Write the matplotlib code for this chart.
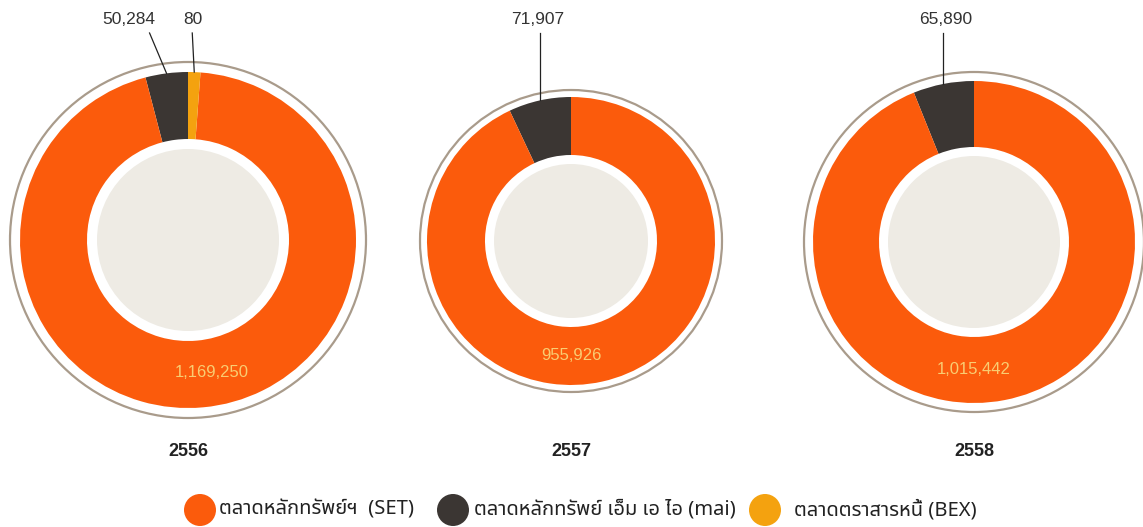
import numpy as np
import matplotlib
matplotlib.use("Agg")
import matplotlib.pyplot as plt
from matplotlib.patches import Circle

# data (ล้านบาท)
years = ["2556", "2557", "2558"]
markets = ["ตลาดหลักทรัพย์ฯ  (SET)", "ตลาดหลักทรัพย์ เอ็ม เอ ไอ (mai)", "ตลาดตราสารหนี้ (BEX)"]
set_values = [1169250, 955926, 1015442]
mai_values = [50284, 71907, 65890]
bex_values = [80, 0, 0]

# style
colors = ["#FB5B0C", "#3B3633", "#F4A20F"]
ring_color = "#A99B8B"
hole_color = "#EEEBE4"
value_color = "#F9CD72"
text_color = "#333333"
centers = [(188, 287), (571, 286), (974, 285)]
r_ring = [178, 151, 170]
r_outer = [168, 144, 161]
r_inner = [101, 86, 95]
r_hole = [91, 77, 86]
label_dx = [[-38, -1], [-2], [2]]
line_dx = [[-17, -2], [0], [0]]
value_angle = [-80, -90, -90]
min_share = 0.012

W, H = 1143, 527
THAI = ["Noto Sans Thai", "Liberation Sans", "DejaVu Sans"]
NUM = ["Liberation Sans", "DejaVu Sans"]


def draw_donut(ax, k):
    cx, cy = centers[k]
    vals = [mai_values[k], set_values[k], bex_values[k]]
    cols = [colors[1], colors[0], colors[2]]
    total = sum(vals)
    # tiny slices get a minimum visible share, like in the printed chart
    shown = [max(v, total * min_share) if v > 0 else 0 for v in vals]
    keep = [i for i, v in enumerate(shown) if v > 0]
    shown = [shown[i] for i in keep]
    cols = [cols[i] for i in keep]
    raw = [vals[i] for i in keep]

    ax.add_patch(Circle((cx, cy), r_ring[k], facecolor="white", edgecolor=ring_color, lw=1.6, zorder=1))
    wedges, _ = ax.pie(shown, colors=cols, startangle=90, counterclock=True, radius=r_outer[k],
                       center=(cx, cy), wedgeprops=dict(width=r_outer[k] - r_inner[k], linewidth=0))
    for w in wedges:
        w.set_zorder(2)
    ax.add_patch(Circle((cx, cy), r_hole[k], facecolor=hole_color, edgecolor="none", zorder=3))

    # leader labels for the small slices (everything except SET)
    n = 0
    for w, v, c in zip(wedges, raw, cols):
        if c == colors[0]:
            continue
        mid = np.deg2rad((w.theta1 + w.theta2) / 2)
        px = cx + r_outer[k] * np.cos(mid)
        py = cy + r_outer[k] * np.sin(mid)
        ax.plot([px + line_dx[k][n], px], [H - 33, py], color="#222222", lw=0.9, zorder=4)
        ax.text(px + label_dx[k][n], H - 20, f"{v:,}", ha="center", va="center", fontsize=12.5,
                color=text_color, family=NUM)
        n += 1

    # SET value inside the ring
    a = np.deg2rad(value_angle[k])
    rm = (r_outer[k] + r_inner[k]) / 2
    ax.text(cx + rm * np.cos(a), cy + rm * np.sin(a), f"{set_values[k]:,}", ha="center", va="center",
            fontsize=12, color=value_color, family=NUM, zorder=5)

    ax.text(cx, H - 451, years[k], ha="center", va="center", fontsize=13, fontweight="bold",
            color="#222222", family=NUM)


def draw_legend(ax):
    dot_x = [200, 453, 765]
    text_x = [219, 474, 794]
    y = H - 510
    for i in range(3):
        ax.scatter([dot_x[i]], [y], s=(32 * 0.72) ** 2, color=colors[i], edgecolors="none", zorder=3)
        ax.text(text_x[i], y, markets[i], ha="left", va="center", fontsize=14.5, fontweight="medium",
                color="#222222", family=THAI)


fig = plt.figure(figsize=(W / 100, H / 100), dpi=100)
ax = fig.add_axes([0, 0, 1, 1])
for k in range(len(years)):
    draw_donut(ax, k)
draw_legend(ax)
ax.set_xlim(0, W)
ax.set_ylim(0, H)
ax.set_aspect("equal")
ax.axis("off")
fig.savefig("out.png", dpi=100)
